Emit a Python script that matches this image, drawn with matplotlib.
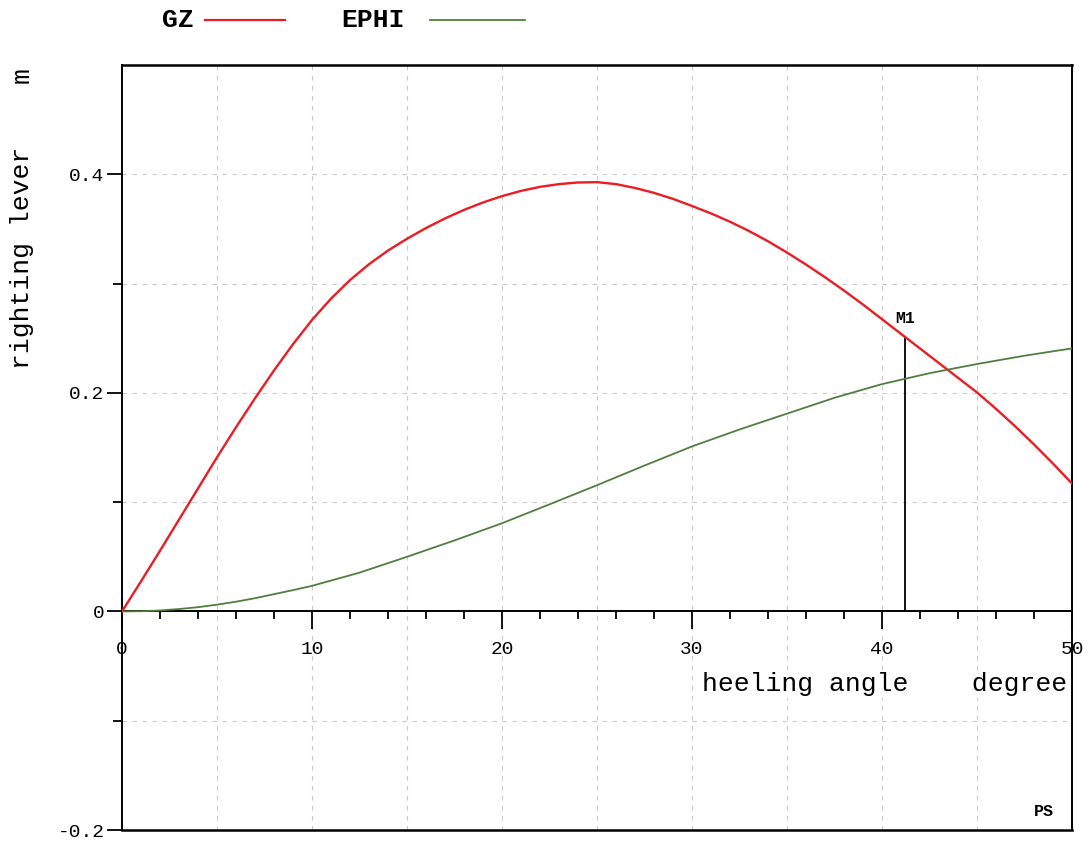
import matplotlib
matplotlib.use('Agg')
import matplotlib.pyplot as plt
from matplotlib.lines import Line2D
from matplotlib.ticker import FixedLocator, FixedFormatter

# heeling angle (degree) and levers (m)
gz_angle = list(range(0, 51))
gz = [0.0, 0.0275, 0.0555, 0.084, 0.1125, 0.141, 0.1685, 0.195, 0.2205, 0.2445, 0.2667,
      0.2862, 0.3032, 0.3177, 0.3302, 0.341, 0.3508, 0.3596, 0.3674, 0.3742, 0.380,
      0.3848, 0.3885, 0.391, 0.3925, 0.3928, 0.391, 0.3875, 0.383, 0.3775, 0.371,
      0.3642, 0.3566, 0.3481, 0.3387, 0.3284, 0.3174, 0.3058, 0.2936, 0.2808, 0.2674,
      0.254, 0.2406, 0.2272, 0.2138, 0.2004, 0.1854, 0.1695, 0.1528, 0.1353, 0.117]

ephi_angle = [0, 1, 2, 3, 4, 5, 6, 7, 8, 9, 10, 12.5, 15, 17.5, 20, 22.5, 25,
              27.5, 30, 32.5, 35, 37.5, 40, 42.5, 45, 47.5, 50]
ephi = [0.0, 0.0002, 0.0009, 0.0022, 0.0039, 0.0062, 0.0089, 0.0121, 0.0158, 0.0195,
        0.0234, 0.0355, 0.050, 0.065, 0.0807, 0.098, 0.1155, 0.1335, 0.151, 0.1665,
        0.181, 0.1955, 0.208, 0.218, 0.2264, 0.234, 0.2407]

m1_angle = 41.2
m1_gz = 0.251

x_major = [0, 10, 20, 30, 40, 50]
x_labels = ['0', '10', '20', '30', '40', '50']
x_minor = [2, 4, 6, 8, 12, 14, 16, 18, 22, 24, 26, 28, 32, 34, 36, 38, 42, 44, 46, 48]
y_major = [-0.2, 0.0, 0.2, 0.4]
y_labels = ['-0.2', '0', '0.2', '0.4']
y_minor = [-0.1, 0.1, 0.3]
x_grid = [5, 10, 15, 20, 25, 30, 35, 40, 45]
y_grid = [-0.1, 0.1, 0.2, 0.3, 0.4]

FONT = 'Liberation Mono'
RED = '#ec1c24'
GREEN = '#4f7f3f'

fig = plt.figure(figsize=(10.92, 8.43), dpi=100)
ax = fig.add_axes([0.1117, 0.0154, 0.8700, 0.9075])
ax.set_xlim(0, 50)
ax.set_ylim(-0.2, 0.5)

# grid
for gx in x_grid:
    ax.axvline(gx, color='#c9c9c9', lw=0.8, ls=(0, (4, 5)), zorder=0)
for gy in y_grid:
    ax.axhline(gy, color='#c9c9c9', lw=0.8, ls=(0, (4, 5)), zorder=0)

# curves
ax.plot(gz_angle, gz, color=RED, lw=1.7, zorder=3)
ax.plot(ephi_angle, ephi, color=GREEN, lw=1.3, zorder=3)
ax.plot([m1_angle, m1_angle], [0, m1_gz], color='black', lw=1.3, zorder=2)
ax.text(m1_angle, m1_gz + 0.010, 'M1', family=FONT, fontsize=12, fontweight='bold',
        ha='center', va='bottom')

# frame: x axis sits at zero, box closed at -0.2
ax.spines['bottom'].set_position(('data', 0))
for side in ['bottom', 'left', 'right']:
    ax.spines[side].set_linewidth(1.4)
ax.spines['top'].set_linewidth(1.8)
ax.axhline(-0.2, color='black', lw=1.8, clip_on=False)

ax.xaxis.set_major_locator(FixedLocator(x_major))
ax.xaxis.set_major_formatter(FixedFormatter(x_labels))
ax.xaxis.set_minor_locator(FixedLocator(x_minor))
ax.yaxis.set_major_locator(FixedLocator(y_major))
ax.yaxis.set_major_formatter(FixedFormatter(y_labels))
ax.yaxis.set_minor_locator(FixedLocator(y_minor))

ax.tick_params(axis='x', which='major', direction='out', length=13, width=1.3,
               pad=8, labelsize=14)
ax.tick_params(axis='x', which='minor', direction='out', length=6, width=1.3)
ax.tick_params(axis='y', which='major', direction='out', length=11, width=1.3,
               pad=1.5, labelsize=14)
ax.tick_params(axis='y', which='minor', direction='out', length=6.5, width=1.3)
for lab in ax.get_xticklabels() + ax.get_yticklabels():
    lab.set_family(FONT)
ax.get_xticklabels()[-1].set_bbox(dict(facecolor='white', edgecolor='none', pad=1))

# axis texts
ax.text(49.75, -0.0667, 'heeling angle    degree', family=FONT, fontsize=19,
        ha='right', va='center',
        bbox=dict(facecolor='white', edgecolor='none', pad=1))
ax.text(48.5, -0.1826, 'PS', family=FONT, fontsize=12, fontweight='bold',
        ha='center', va='center')
fig.text(22 / 1092, 1 - 258 / 843, 'righting lever', family=FONT, fontsize=19,
         rotation=90, ha='center', va='center')
fig.text(22 / 1092, 1 - 75 / 843, 'm', family=FONT, fontsize=19,
         rotation=90, ha='center', va='center')

# legend on top
fig.text(178 / 1092, 1 - 20 / 843, 'GZ', family=FONT, fontsize=19, fontweight='bold',
         ha='center', va='center')
fig.add_artist(Line2D([205 / 1092, 285 / 1092], [1 - 20 / 843, 1 - 20 / 843],
                      color=RED, lw=1.6, transform=fig.transFigure))
fig.text(373 / 1092, 1 - 20 / 843, 'EPHI', family=FONT, fontsize=19, fontweight='bold',
         ha='center', va='center')
fig.add_artist(Line2D([430 / 1092, 525 / 1092], [1 - 20 / 843, 1 - 20 / 843],
                      color=GREEN, lw=1.3, transform=fig.transFigure))

fig.savefig('out.png', dpi=100, facecolor='white')
